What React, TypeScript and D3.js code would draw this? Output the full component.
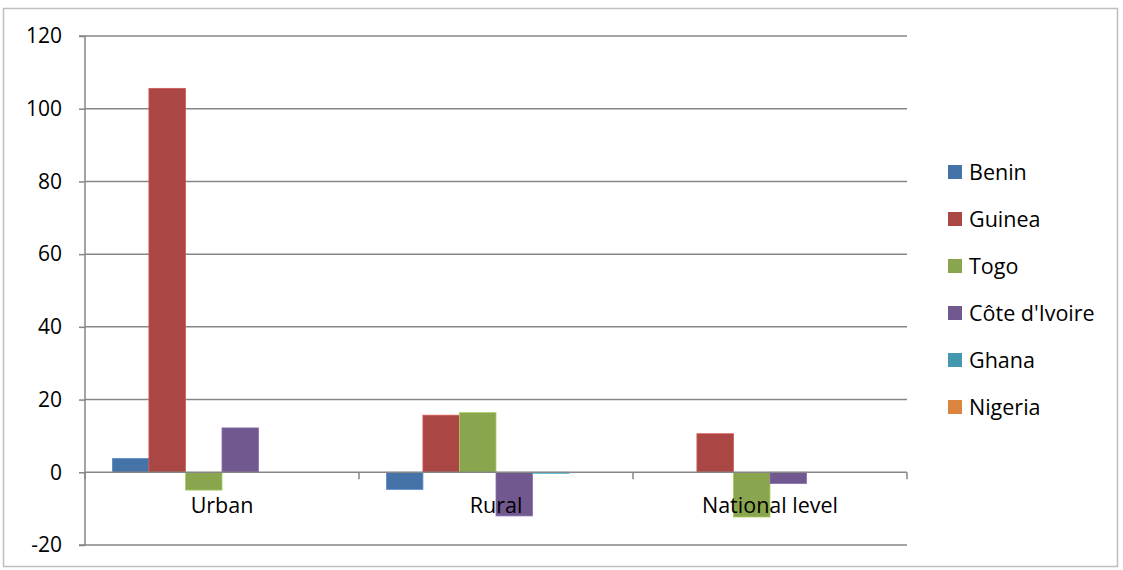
import React, { useEffect, useRef } from 'react';
import * as d3 from 'd3';

const categories = ['Urban', 'Rural', 'National level'];
const countries = ['Benin', 'Guinea', 'Togo', "Côte d'Ivoire", 'Ghana', 'Nigeria'];
const colors = ['#4572A7', '#AA4643', '#89A54E', '#71588F', '#4198AF', '#DB843D'];

const benin = [3.8, -4.7, 0];
const guinea = [105.6, 15.7, 10.6];
const togo = [-4.9, 16.4, -12.3];
const coteDivoire = [12.2, -12, -3.1];
const ghana = [0, -0.3, 0];
const nigeria = [0, 0, 0];
const seriesValues = [benin, guinea, togo, coteDivoire, ghana, nigeria];

const yTicks = [-20, 0, 20, 40, 60, 80, 100, 120];

const App: React.FC = () => {
  const ref = useRef<SVGSVGElement | null>(null);

  useEffect(() => {
    if (!ref.current) return;
    const svg = d3.select(ref.current);
    svg.selectAll('*').remove();

    const font = "'Open Sans', 'Liberation Sans', sans-serif";
    const left = 85, right = 907, top = 36, bottom = 545;
    const gridColor = '#868686';

    // outer chart frame
    svg.append('rect')
      .attr('x', 3.5).attr('y', 8.5)
      .attr('width', 1114).attr('height', 558)
      .attr('fill', 'white')
      .attr('stroke', '#bfbfbf')
      .attr('stroke-width', 1.5);

    const y = d3.scaleLinear().domain([-20, 120]).range([bottom, top]);
    const x0 = d3.scaleBand<string>().domain(categories).range([left, right]).padding(0);
    // 6 bars + gap width 150% -> outer padding 0.75 bar on each side
    const bw = x0.bandwidth() / (countries.length + 1.5);
    const x1 = d3.scaleBand<string>().domain(countries)
      .range([bw * 0.75, x0.bandwidth() - bw * 0.75]).padding(0);

    // gridlines
    svg.append('g').selectAll('line')
      .data(yTicks.filter(t => t !== 0))
      .join('line')
      .attr('x1', left).attr('x2', right)
      .attr('y1', d => y(d)).attr('y2', d => y(d))
      .attr('stroke', gridColor).attr('stroke-width', 1.5);

    // bars
    const groups = svg.append('g').selectAll('g')
      .data(categories)
      .join('g')
      .attr('transform', d => `translate(${x0(d)},0)`);

    groups.selectAll('rect')
      .data((c, ci) => countries.map((name, si) => ({ name, si, v: seriesValues[si][ci] })))
      .join('rect')
      .attr('x', d => x1(d.name) as number)
      .attr('width', x1.bandwidth())
      .attr('y', d => y(Math.max(0, d.v)))
      .attr('height', d => Math.abs(y(d.v) - y(0)))
      .attr('fill', d => colors[d.si])
      .attr('stroke', d => d3.color(colors[d.si])!.brighter(0.6).toString())
      .attr('stroke-width', 0.8);

    // y axis
    const yAxis = d3.axisLeft(y).tickValues(yTicks).tickSize(6).tickPadding(17)
      .tickFormat(d => String(d));
    const ya = svg.append('g').attr('transform', `translate(${left},0)`).call(yAxis);
    ya.select('.domain').attr('stroke', gridColor).attr('stroke-width', 1.5).attr('d', `M-6,${top}H0V${bottom}H-6`);
    ya.selectAll('.tick line').attr('stroke', gridColor).attr('stroke-width', 1.5);
    ya.selectAll('.tick text').attr('font-family', font).attr('font-size', 21).attr('fill', '#000');

    // x axis at zero
    const xa = svg.append('g').attr('transform', `translate(0,${y(0)})`);
    xa.append('line').attr('x1', left).attr('x2', right)
      .attr('stroke', gridColor).attr('stroke-width', 1.5);
    xa.selectAll('line.tk')
      .data([...categories.map(c => x0(c) as number), right])
      .join('line').attr('class', 'tk')
      .attr('x1', d => d).attr('x2', d => d)
      .attr('y1', 0).attr('y2', 7)
      .attr('stroke', gridColor).attr('stroke-width', 1.5);
    xa.selectAll('text')
      .data(categories)
      .join('text')
      .attr('x', d => (x0(d) as number) + x0.bandwidth() / 2)
      .attr('y', 41)
      .attr('text-anchor', 'middle')
      .attr('font-family', font).attr('font-size', 21.5)
      .attr('fill', '#000')
      .text(d => d);

    // legend
    const lg = svg.append('g').selectAll('g')
      .data(countries)
      .join('g')
      .attr('transform', (d, i) => `translate(948,${172 + i * 47})`);
    lg.append('rect')
      .attr('x', 0).attr('y', -7).attr('width', 14).attr('height', 14)
      .attr('fill', (d, i) => colors[i]);
    lg.append('text')
      .attr('x', 21).attr('y', 0).attr('dy', '0.35em')
      .attr('font-family', font).attr('font-size', 21.5)
      .attr('fill', '#000')
      .text(d => d);
  }, []);

  return (
    <svg ref={ref} width={1123} height={570}
      style={{ position: 'absolute', left: 0, top: 0, background: 'white' }} />
  );
};

export default App;
